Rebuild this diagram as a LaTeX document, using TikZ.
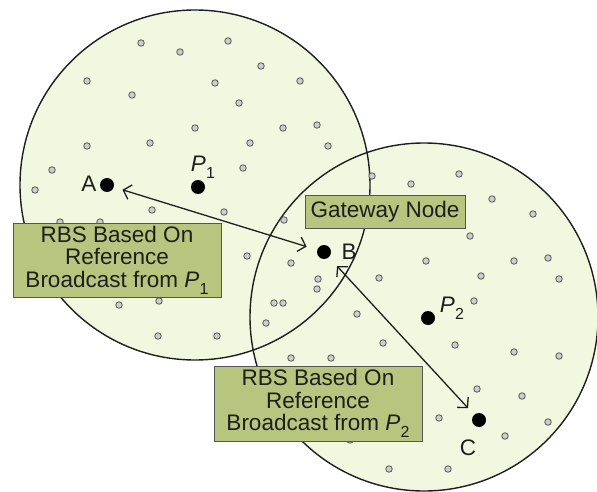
\documentclass[tikz,border=0pt]{standalone}
\usepackage{fontspec}
\setmainfont{Liberation Sans}
\usetikzlibrary{arrows.meta}
\definecolor{zone}{RGB}{242,248,224}
\definecolor{tag}{RGB}{183,197,127}
\definecolor{ink}{RGB}{30,30,30}
\definecolor{sensorfill}{RGB}{205,205,205}
\definecolor{sensorline}{RGB}{85,85,85}
% italic P with an upright subscript
\newcommand{\refp}[1]{\textit{P}\kern0.3pt\raisebox{-0.3em}{\fontsize{16}{16}\selectfont #1}}

\begin{document}
\begin{tikzpicture}[x=1pt,y=-1pt,
  every node/.style={font=\fontsize{22.5}{22.5}\selectfont, text=ink},
  sensor/.style={circle,draw=sensorline,fill=sensorfill,line width=0.8pt,inner sep=0pt,minimum size=6.5pt},
  refnode/.style={circle,fill=black,inner sep=0pt,minimum size=14pt},
  tagbox/.style={draw=sensorline,fill=tag,line width=1pt,align=center,inner sep=0pt},
  zoneline/.style={draw=ink,line width=1.4pt},
  link/.style={draw=ink,line width=1.3pt,{Straight Barb[length=7pt,width=15pt]}-{Straight Barb[length=7pt,width=15pt]}}]

\useasboundingbox (0,0) rectangle (597,492);

% broadcast ranges of the two reference nodes
\fill[zone] (195,185) circle[radius=175pt];
\fill[zone] (424,317) circle[radius=174pt];
\draw[zoneline] (195,185) circle[radius=175pt];
\draw[zoneline] (424,317) circle[radius=174pt];

% ordinary sensor nodes
\foreach \x/\y [count=\i] in {
  141/43,228/41,180/52,261/66,87/81,215/83,300/81,132/95,239/103,
  195/128,283/128,87/146,150/143,250/143,52/170,243/168,35/190,
  152/210,224/212,284/220,317/125,328/146,372/176,60/222,100/222,
  247/256,291/263,318/279,317/289,274/303,283/303,266/323,217/336,
  158/336,119/305,159/301,
  411/184,459/174,492/199,533/214,470/236,426/261,514/261,548/258,
  481/276,559/279,474/301,379/278,357/314,383/343,455/345,514/352,
  559/356,331/358,291/358,477/389,522/396,439/418,548/422,505/436,
  389/469,448/469,350/440}
  \node[sensor] (s\i) at (\x,\y) {};

% reference and receiver nodes
\node[refnode] (A)  at (107,185) {};
\node[refnode] (P1) at (198,187) {};
\node[refnode] (B)  at (324,252) {};
\node[refnode] (P2) at (428,318) {};
\node[refnode] (C)  at (479,420) {};

\node (Alab)  at (89,184)  {A};
\node (Blab)  at (349,252) {B};
\node (Clab)  at (468,448) {C};
\node (P1lab) at (203,167) {\refp{1}};
\node (P2lab) at (452,308) {\refp{2}};

% synchronization exchanges
\draw[link,shorten <=9pt,shorten >=11pt] (A) -- (B);
\draw[link,shorten <=12pt,shorten >=9pt] (B) -- (C);

% captions
\node[tagbox,minimum width=208pt,minimum height=74pt] (rbs1) at (117,260)
  {RBS Based On\\Reference\\Broadcast from \refp{1}};
\node[tagbox,minimum width=160pt,minimum height=33pt] (gw) at (385,211.5)
  {Gateway Node};
\node[tagbox,minimum width=208pt,minimum height=75pt] (rbs2) at (318,403.5)
  {RBS Based On\\Reference\\Broadcast from \refp{2}};
\end{tikzpicture}
\end{document}
